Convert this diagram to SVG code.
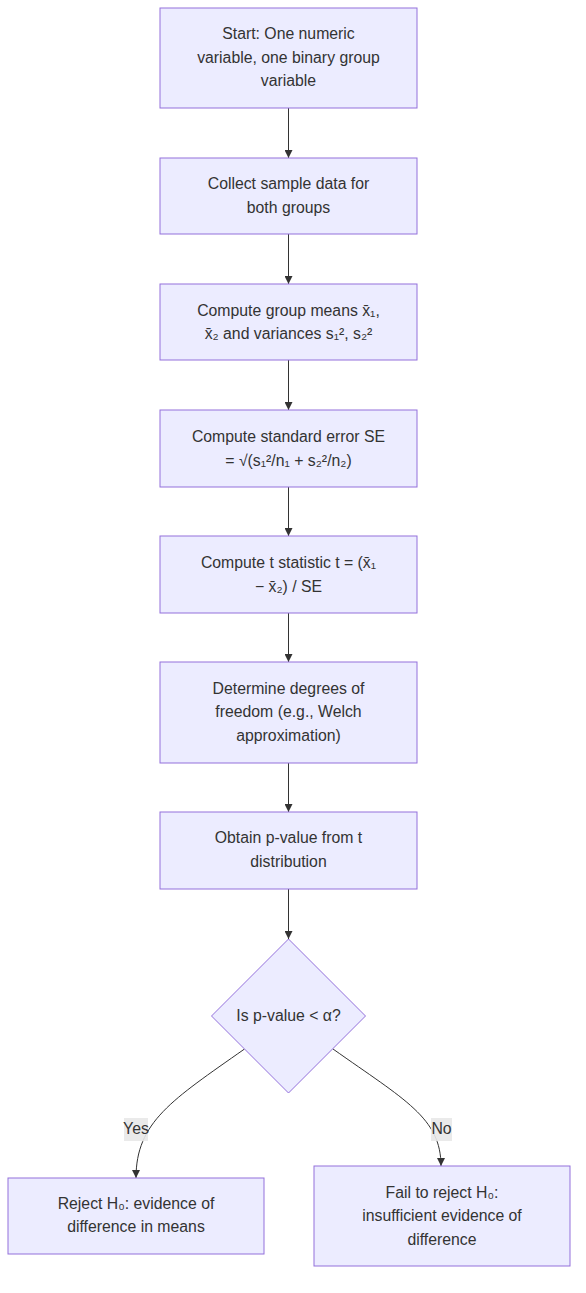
<svg xmlns="http://www.w3.org/2000/svg" width="586" height="1293" viewBox="0 0 586 1293">
<style>
.n{fill:#ECECFF;stroke:#9370DB;stroke-width:1}
.t{font-family:"Liberation Sans",Arial,sans-serif;font-size:15.8px;fill:#333;text-anchor:middle}
.e{fill:none;stroke:#333;stroke-width:1}
.lb{fill:#e8e8e8;opacity:0.9}
</style>
<defs>
<marker id="ah" viewBox="0 0 10 10" refX="10" refY="5" markerWidth="8" markerHeight="8" markerUnits="userSpaceOnUse" orient="auto">
<path d="M0,0 L10,5 L0,10 z" fill="#333"/>
</marker>
</defs>
<rect width="586" height="1293" fill="#fff"/>
<g id="edges">
<path class="e" d="M288.5,108 V158" marker-end="url(#ah)"/>
<path class="e" d="M288.5,234 V284" marker-end="url(#ah)"/>
<path class="e" d="M288.5,360 V410" marker-end="url(#ah)"/>
<path class="e" d="M288.5,487 V536" marker-end="url(#ah)"/>
<path class="e" d="M288.5,613 V662" marker-end="url(#ah)"/>
<path class="e" d="M288.5,763 V812" marker-end="url(#ah)"/>
<path class="e" d="M288.5,889 V939" marker-end="url(#ah)"/>
<path class="e" d="M244.5,1049 C172,1100 136,1122 136,1178" marker-end="url(#ah)"/>
<path class="e" d="M333,1049 C405,1100 441,1118 441,1166" marker-end="url(#ah)"/>
<g id="lbl-yes"><rect class="lb" x="124" y="1118" width="24" height="23"/><text class="t" x="136" y="1134">Yes</text></g>
<g id="lbl-no"><rect class="lb" x="431" y="1118" width="21" height="23"/><text class="t" x="441.5" y="1134">No</text></g>
</g>
<g id="n1"><rect class="n" x="160" y="8" width="257" height="100"/>
<text class="t" x="288.5" y="39">Start: One numeric</text>
<text class="t" x="288.5" y="63">variable, one binary group</text>
<text class="t" x="288.5" y="86">variable</text></g>
<g id="n2"><rect class="n" x="160" y="158" width="257" height="76"/>
<text class="t" x="288.5" y="189">Collect sample data for</text>
<text class="t" x="288.5" y="213">both groups</text></g>
<g id="n3"><rect class="n" x="160" y="284" width="257" height="76"/>
<text class="t" x="288.5" y="316">Compute group means x̄₁,</text>
<text class="t" x="288.5" y="339">x̄₂ and variances s₁², s₂²</text></g>
<g id="n4"><rect class="n" x="160" y="410" width="257" height="77"/>
<text class="t" x="288.5" y="442">Compute standard error SE</text>
<text class="t" x="288.5" y="466">= √(s₁²/n₁ + s₂²/n₂)</text></g>
<g id="n5"><rect class="n" x="160" y="536" width="257" height="77"/>
<text class="t" x="288.5" y="568">Compute t statistic t = (x̄₁</text>
<text class="t" x="288.5" y="592">− x̄₂) / SE</text></g>
<g id="n6"><rect class="n" x="160" y="662" width="257" height="101"/>
<text class="t" x="288.5" y="694">Determine degrees of</text>
<text class="t" x="288.5" y="717">freedom (e.g., Welch</text>
<text class="t" x="288.5" y="741">approximation)</text></g>
<g id="n7"><rect class="n" x="160" y="812" width="257" height="77"/>
<text class="t" x="288.5" y="843">Obtain p-value from t</text>
<text class="t" x="288.5" y="867">distribution</text></g>
<g id="n8"><polygon class="n" points="288.5,939 365.5,1016 288.5,1093 211.5,1016"/>
<text class="t" x="288.5" y="1021">Is p-value &lt; α?</text></g>
<g id="n9"><rect class="n" x="8" y="1178" width="256" height="76"/>
<text class="t" x="136" y="1209">Reject H₀: evidence of</text>
<text class="t" x="136" y="1232">difference in means</text></g>
<g id="n10"><rect class="n" x="314" y="1166" width="256" height="100"/>
<text class="t" x="442" y="1198">Fail to reject H₀:</text>
<text class="t" x="442" y="1221">insufficient evidence of</text>
<text class="t" x="442" y="1245">difference</text></g>
</svg>
